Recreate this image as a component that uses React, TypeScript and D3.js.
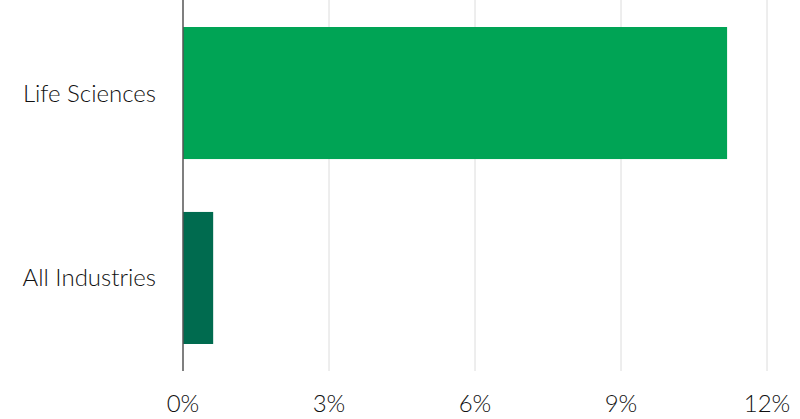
import React from "react";
import * as d3 from "d3";

const categories = ["Life Sciences", "All Industries"];
const values = [11.18, 0.62];
const colors = ["#00A455", "#006B4F"];
const tickValues = [0, 3, 6, 9, 12];

export default function App() {
  const W = 800, H = 419;
  const x = d3.scaleLinear().domain([0, 12]).range([183, 767]);
  const y = d3.scaleBand<string>().domain(categories).range([0, 371]).paddingInner(0.286).paddingOuter(0.146);
  const font = "Lato, 'Open Sans', sans-serif";
  return (
    <svg width={W} height={H} style={{ position: "absolute", left: 0, top: 0, background: "#fff" }}>
      {tickValues.map((t) => (
        <g key={t}>
          {t !== 0 && <line x1={x(t)} x2={x(t)} y1={0} y2={371} stroke="#dcdcdc" strokeWidth={1} />}
          <text x={x(t)} y={412} textAnchor="middle" fontFamily={font} fontWeight={300} fontSize={24} fill="#111">{t}%</text>
        </g>
      ))}
      {categories.map((c, i) => (
        <g key={c}>
          <rect x={x(0)} y={y(c)!} width={x(values[i]) - x(0)} height={y.bandwidth()} fill={colors[i]} />
          <text x={156} y={y(c)! + y.bandwidth() / 2 + 8.5} textAnchor="end" fontFamily={font} fontWeight={300} fontSize={24} fill="#111">{c}</text>
        </g>
      ))}
      <line x1={x(0)} x2={x(0)} y1={0} y2={371} stroke="#555" strokeWidth={1.5} />
    </svg>
  );
}
